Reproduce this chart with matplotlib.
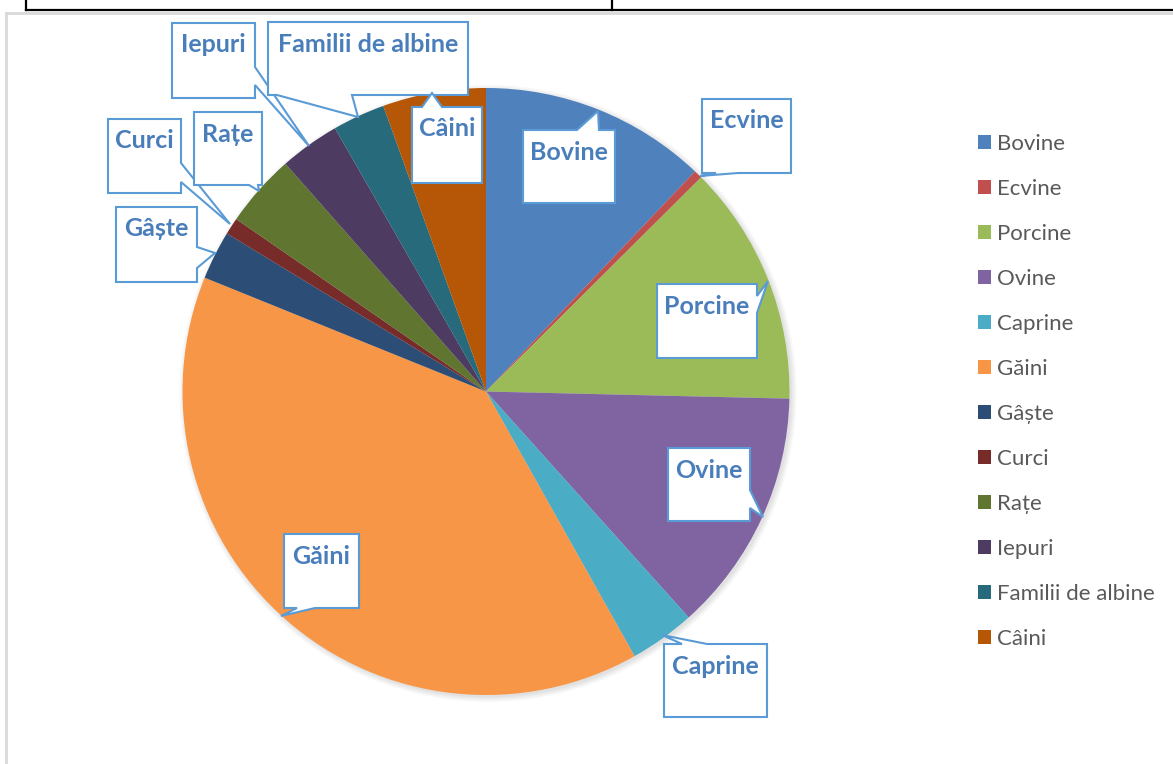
import matplotlib.pyplot as plt
from matplotlib.patches import Polygon, Circle

W, H = 1173, 764

# pie data (share of each category)
categories = ['Bovine', 'Ecvine', 'Porcine', 'Ovine', 'Caprine', 'Găini',
              'Gâște', 'Curci', 'Rațe', 'Iepuri', 'Familii de albine', 'Câini']
shares = [12.1, 0.45, 12.85, 13.0, 3.5, 39.3, 2.6, 0.9, 3.9, 3.2, 2.8, 5.5]
colors = ['#4F81BD', '#C0504D', '#9BBB59', '#8064A2', '#4BACC6', '#F79646',
          '#2C4D75', '#772C2A', '#5F7530', '#4D3B62', '#276A7C', '#B65708']

# callout layout in image pixels: box, side of the tail, tail base, tail tip
callouts = {
    'Bovine': ((523, 130, 615, 203), 'top', 577, 599, (598, 111)),
    'Ecvine': ((702, 99, 791, 173), 'bottom', 716, 738, (700, 176)),
    'Porcine': ((657, 284, 757, 358), 'right', 296, 313, (768, 281)),
    'Ovine': ((668, 448, 750, 521), 'right', 490, 508, (763, 517)),
    'Caprine': ((664, 644, 767, 717), 'top', 682, 707, (662, 635)),
    'Găini': ((284, 534, 359, 608), 'bottom', 297, 315, (281, 616)),
    'Gâște': ((116, 207, 197, 282), 'right', 247, 268, (215, 253)),
    'Curci': ((108, 119, 181, 193), 'right', 163, 182, (230, 224)),
    'Rațe': ((194, 112, 262, 185), 'bottom', 249, 258, (259, 191)),
    'Iepuri': ((172, 23, 255, 98), 'right', 67, 85, (309, 146)),
    'Familii de albine': ((268, 22, 468, 95), 'bottom', 277, 352, (358, 117)),
    'Câini': ((412, 107, 482, 183), 'top', 422, 442, (432, 93)),
}

FONT = ['Lato', 'DejaVu Sans']
plt.rcParams['font.family'] = FONT


def callout_points(box, side, a, b, tip):
    x0, y0, x1, y1 = box
    a, b = min(a, b), max(a, b)
    pts = [(x0, y0)]
    if side == 'top':
        pts += [(a, y0), tip, (b, y0)]
    pts.append((x1, y0))
    if side == 'right':
        pts += [(x1, a), tip, (x1, b)]
    pts.append((x1, y1))
    if side == 'bottom':
        pts += [(b, y1), tip, (a, y1)]
    pts.append((x0, y1))
    if side == 'left':
        pts += [(x0, b), tip, (x0, a)]
    return [(x, H - y) for x, y in pts]


fig = plt.figure(figsize=(W / 100, H / 100), dpi=100)
ax = fig.add_axes([0, 0, 1, 1])

# bits of the surrounding document: table above and chart frame
ax.plot([26, W], [H - 10, H - 10], color='black', lw=1.6)
ax.plot([26, 26], [H, H - 10], color='black', lw=1.6)
ax.plot([612, 612], [H, H - 10], color='black', lw=1.6)
ax.plot([6, W], [H - 13, H - 13], color='#D9D9D9', lw=2)
ax.plot([6, 6], [H - 13, 0], color='#D9D9D9', lw=2)

cx, cy, r = 486, H - 391.5, 303.5

# soft shadow round the pie
for k, a in enumerate([0.05, 0.05, 0.06, 0.08]):
    ax.add_patch(Circle((cx + 2, cy - 2), r + 5 - k * 1.5, color='gray',
                        alpha=a, lw=0, zorder=1))

wedges, _ = ax.pie(shares, colors=colors, startangle=90, counterclock=False,
                   center=(cx, cy), radius=r, frame=True,
                   wedgeprops=dict(linewidth=0))
for w in wedges:
    w.set_zorder(2)
ax.set_xlim(0, W)
ax.set_ylim(0, H)
ax.set_aspect('equal')
ax.axis('off')

for name in categories:
    box, side, a, b, tip = callouts[name]
    ax.add_patch(Polygon(callout_points(box, side, a, b, tip), closed=True,
                         facecolor='white', edgecolor='#5B9BD5', lw=1.5,
                         joinstyle='miter', zorder=5))
    x0, y0, x1, y1 = box
    ax.text((x0 + x1) / 2, H - (y0 + 22), name, ha='center', va='center',
            fontsize=18, fontweight='bold', color='#4A7EBB', zorder=6)

fig.legend(wedges, categories, loc='center left',
           bbox_to_anchor=(978 / W, 1 - 391.5 / H), frameon=False,
           fontsize=16, handlelength=0.6, handleheight=0.6,
           handletextpad=0.25, labelspacing=1.125, borderpad=0,
           borderaxespad=0, labelcolor='#595959')

fig.savefig('out.png', dpi=100, facecolor='white')
